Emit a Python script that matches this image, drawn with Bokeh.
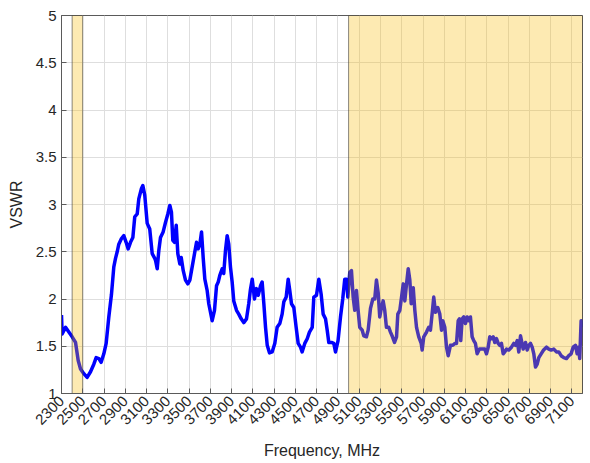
from bokeh.plotting import figure
from bokeh.models import FixedTicker, Range1d
from bokeh.embed import file_html
from bokeh.resources import INLINE

# ---- data ----
freq_mhz = [
    2300, 2306, 2338, 2369, 2400, 2432, 2457, 2479, 2510, 2541, 2573, 2604, 2626, 2651, 2673,
    2698, 2720, 2745, 2770, 2792, 2808, 2824, 2839, 2864, 2886, 2908, 2927, 2949, 2971, 2989,
    3012, 3027, 3052, 3065, 3083, 3106, 3130, 3153, 3177,
    3184, 3200, 3215, 3231, 3256, 3278, 3300, 3319, 3334, 3347, 3363, 3379, 3394, 3413, 3426,
    3445, 3466, 3488, 3507, 3529, 3551, 3570, 3585, 3601, 3617, 3633, 3648, 3670, 3685, 3701,
    3717, 3739, 3758, 3774, 3789, 3811, 3826, 3842, 3858, 3873, 3889, 3905, 3920, 3946, 3967,
    3990, 4014, 4040, 4061, 4077,
    4094, 4115, 4134, 4150, 4172, 4187, 4203, 4219, 4235, 4256, 4281, 4306, 4328, 4353, 4375,
    4391, 4413, 4432, 4447, 4463, 4485, 4507, 4526, 4548, 4563, 4588, 4611, 4632, 4658, 4673,
    4698, 4720, 4742, 4761, 4783, 4799, 4814, 4839, 4861, 4877, 4901, 4924, 4945, 4964,
    4980, 4993, 5011, 5027, 5043, 5058, 5074, 5087, 5105, 5128, 5143, 5168, 5184, 5206, 5228,
    5246, 5262, 5278, 5293, 5309, 5325, 5340, 5356, 5378, 5394, 5413, 5432, 5451, 5463, 5482,
    5498, 5514, 5529, 5545, 5561, 5576, 5589, 5608, 5623, 5639, 5660, 5683, 5692, 5707, 5733,
    5754, 5770, 5789, 5801, 5817, 5839, 5858,
    5874, 5886, 5905, 5921, 5937, 5958, 5980, 5999, 6015, 6031, 6043, 6055, 6068, 6083, 6099,
    6115, 6130, 6146, 6162, 6177, 6193, 6209, 6231, 6256, 6281, 6297, 6313, 6328, 6344, 6360,
    6375, 6391, 6407, 6422, 6438, 6454, 6469, 6485, 6507, 6532, 6554, 6570, 6586, 6601,
    6617, 6642, 6664, 6680, 6695, 6711, 6727, 6742, 6758, 6774, 6789, 6811, 6834, 6861, 6883,
    6905, 6930, 6955, 6977, 6999, 7024, 7049, 7071, 7093, 7112, 7134, 7150, 7162, 7174, 7187,
    7200,
]
vswr = [
    1.83, 1.63, 1.70, 1.65, 1.60, 1.54, 1.35, 1.26, 1.21, 1.17, 1.23, 1.31, 1.38, 1.37, 1.33,
    1.42, 1.53, 1.81, 2.05, 2.34, 2.43, 2.50, 2.58, 2.64, 2.67, 2.60, 2.53, 2.60, 2.65, 2.87,
    2.90, 3.06, 3.17, 3.20, 3.10, 2.80, 2.74, 2.48, 2.43,
    2.41, 2.32, 2.51, 2.65, 2.71, 2.81, 2.90, 2.99, 2.92, 2.62, 2.60, 2.78, 2.48, 2.37, 2.44,
    2.30, 2.20, 2.16, 2.20, 2.34, 2.48, 2.60, 2.53, 2.58, 2.71, 2.43, 2.21, 2.09, 1.95, 1.86,
    1.77, 1.88, 2.14, 2.18, 2.25, 2.32, 2.27, 2.51, 2.67, 2.58, 2.34, 2.18, 1.98, 1.88, 1.84,
    1.79, 1.75, 1.79, 1.95, 2.10,
    2.21, 2.00, 2.11, 2.04, 2.14, 2.18, 1.95, 1.70, 1.51, 1.43, 1.44, 1.53, 1.70, 1.74, 1.84,
    1.97, 2.02, 2.21, 2.09, 1.95, 1.91, 1.70, 1.53, 1.49, 1.44, 1.53, 1.58, 1.65, 1.70, 2.02,
    2.04, 2.21, 2.05, 1.84, 1.79, 1.67, 1.54, 1.54, 1.53, 1.44, 1.56, 1.81, 2.00, 2.21,
    2.21, 2.02, 2.28, 2.30, 2.02, 1.88, 2.09, 1.91, 1.70, 1.67, 1.61, 1.60, 1.67, 1.90, 2.00,
    2.00, 2.20, 2.07, 1.81, 1.91, 1.98, 1.88, 1.70, 1.70, 1.65, 1.60, 1.54, 1.60, 1.84, 1.88,
    2.02, 2.16, 1.98, 2.16, 2.32, 2.20, 1.95, 2.12, 1.88, 1.70, 1.60, 1.53, 1.46, 1.60, 1.65,
    1.70, 1.67, 1.88, 2.02, 1.86, 1.91, 1.84,
    1.67, 1.77, 1.70, 1.49, 1.40, 1.51, 1.51, 1.53, 1.53, 1.77, 1.79, 1.56, 1.79, 1.81, 1.74,
    1.81, 1.77, 1.81, 1.60, 1.56, 1.53, 1.42, 1.47, 1.47, 1.47, 1.42, 1.49, 1.60, 1.58, 1.60,
    1.54, 1.58, 1.53, 1.51, 1.53, 1.42, 1.44, 1.47, 1.46, 1.49, 1.53, 1.51, 1.56, 1.44,
    1.61, 1.47, 1.54, 1.46, 1.51, 1.53, 1.49, 1.42, 1.28, 1.31, 1.38, 1.42, 1.46, 1.49, 1.47,
    1.46, 1.47, 1.44, 1.44, 1.40, 1.38, 1.37, 1.40, 1.42, 1.49, 1.51, 1.42, 1.49, 1.37, 1.77,
    1.70,
]
band_start = [2400, 5000]
band_end = [2500, 7200]
x_ticks = list(range(2300, 7101, 200))
y_ticks = [1, 1.5, 2, 2.5, 3, 3.5, 4, 4.5, 5]
y_tick_labels = ["1", "1.5", "2", "2.5", "3", "3.5", "4", "4.5", "5"]

FONT = "Liberation Sans"
TXT = "#262626"
EDGE = "#5a5a5a"

p = figure(width=590, height=463, x_range=Range1d(2300, 7200), y_range=Range1d(1, 5),
           output_backend="svg", toolbar_location=None,
           min_border_left=61, min_border_right=8, min_border_top=15, min_border_bottom=70)
p.background_fill_color = "white"
p.border_fill_color = "white"
p.outline_line_color = EDGE
p.outline_line_width = 1

p.line(freq_mhz, vswr, line_color="#0000FF", line_width=3.5, line_join="round")
p.quad(left=band_start, right=band_end, bottom=1, top=5,
       fill_color="#F9B800", fill_alpha=0.3, line_color="#3c3c3c", line_alpha=0.6, line_width=1)

p.xaxis.ticker = FixedTicker(ticks=x_ticks)
p.yaxis.ticker = FixedTicker(ticks=y_ticks)
p.yaxis.major_label_overrides = dict(zip(y_ticks, y_tick_labels))
p.xgrid.ticker = FixedTicker(ticks=x_ticks)
p.ygrid.ticker = FixedTicker(ticks=y_ticks)
p.grid.grid_line_color = "#dedede"
p.grid.grid_line_width = 1

p.xaxis.axis_label = "Frequency, MHz"
p.yaxis.axis_label = "VSWR"
p.xaxis.major_label_orientation = 0.785398
for ax in (p.xaxis[0], p.yaxis[0]):
    ax.major_tick_in = 5
    ax.major_tick_out = 0
    ax.minor_tick_line_color = None
    ax.axis_line_color = EDGE
    ax.major_tick_line_color = EDGE
    ax.major_label_text_font = FONT
    ax.major_label_text_font_size = "15px"
    ax.major_label_text_color = TXT
    ax.major_label_standoff = 5
    ax.axis_label_text_font = FONT
    ax.axis_label_text_font_size = "16px"
    ax.axis_label_text_font_style = "normal"
    ax.axis_label_text_color = TXT
p.xaxis.axis_label_standoff = 10
p.yaxis.axis_label_standoff = 8

open("out.html", "w").write(file_html(p, INLINE))
